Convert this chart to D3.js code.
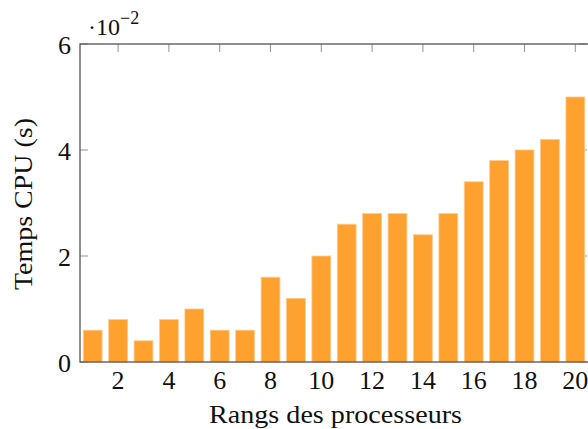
<!DOCTYPE html>
<html>
<head>
<meta charset="utf-8">
<script src="https://cdn.jsdelivr.net/npm/d3@7"></script>
<style>
  body { margin: 0; background: #fff; }
  text { font-family: "Liberation Serif", "DejaVu Serif", serif; fill: #111; }
</style>
</head>
<body>
<svg id="SVG_CONTAINER" width="588" height="429"></svg>
<script>
// ranks of the processors and CPU time (in units of 10^-2 s)
const ranks = d3.range(1, 21);
const cpuTimes = [0.6, 0.8, 0.4, 0.8, 1.0, 0.6, 0.6, 1.6, 1.2, 2.0,
                  2.6, 2.8, 2.8, 2.4, 2.8, 3.4, 3.8, 4.0, 4.2, 5.0];
const xTicks = [2, 4, 6, 8, 10, 12, 14, 16, 18, 20];
const yTicks = [0, 2, 4, 6];

const MARGIN = {LEFT: 80, RIGHT: 0, TOP: 44, BOTTOM: 67};
const width = 588, height = 429;

let svg = d3.select("#SVG_CONTAINER");

//** SCALES
let xScale = d3.scaleLinear()
    .domain([0.5, 20.5])
    .range([MARGIN.LEFT, width - MARGIN.RIGHT]);

let yScale = d3.scaleLinear()
    .domain([0, 6])
    .range([height - MARGIN.BOTTOM, MARGIN.TOP]);

let barWidth = (xScale(1) - xScale(0)) * 0.74;
let x0 = xScale.range()[0], x1 = xScale.range()[1];
let y0 = yScale.range()[0], y1 = yScale.range()[1];

//** TICKS (inner, both sides) drawn below the bars
let tickColor = "#9a9a9a", tickLen = 8;
let ticks = svg.append("g").attr("stroke", tickColor).attr("stroke-width", 1.1);
xTicks.forEach(function(t) {
    ticks.append("line").attr("x1", xScale(t)).attr("x2", xScale(t))
        .attr("y1", y1).attr("y2", y1 + tickLen);
    ticks.append("line").attr("x1", xScale(t)).attr("x2", xScale(t))
        .attr("y1", y0).attr("y2", y0 - tickLen);
});
yTicks.forEach(function(t) {
    ticks.append("line").attr("x1", x0).attr("x2", x0 + tickLen)
        .attr("y1", yScale(t)).attr("y2", yScale(t));
    ticks.append("line").attr("x1", x1 - 1).attr("x2", x1 - 1 - tickLen)
        .attr("y1", yScale(t)).attr("y2", yScale(t));
});

//** BARS
svg.append("g")
    .selectAll("rect")
    .data(ranks)
    .enter()
    .append("rect")
    .attr("x", d => xScale(d) - barWidth / 2)
    .attr("y", (d, i) => yScale(cpuTimes[i]))
    .attr("width", barWidth)
    .attr("height", (d, i) => y0 - yScale(cpuTimes[i]))
    .style("fill", "#ffa12e")
    .style("stroke", "#ffc98a")
    .style("stroke-width", 0.8);

//** AXIS BOX
svg.append("rect")
    .attr("x", x0)
    .attr("y", y1)
    .attr("width", x1 - x0 + 2)
    .attr("height", y0 - y1)
    .attr("fill", "none")
    .attr("stroke", "#555")
    .attr("stroke-width", 1.3);

//** TICK LABELS
svg.append("g")
    .selectAll("text")
    .data(xTicks)
    .enter()
    .append("text")
    .attr("x", d => xScale(d))
    .attr("y", y0 + 27)
    .attr("text-anchor", "middle")
    .style("font-size", "26px")
    .text(d => d);

svg.append("g")
    .selectAll("text")
    .data(yTicks)
    .enter()
    .append("text")
    .attr("x", x0 - 9)
    .attr("y", d => yScale(d) + 10)
    .attr("text-anchor", "end")
    .style("font-size", "26px")
    .text(d => d);

// exponent label
let expo = svg.append("text")
    .attr("x", 88)
    .attr("y", 35)
    .style("font-size", "24px");
expo.append("tspan").text("\u00b710");
expo.append("tspan").attr("dy", -11).style("font-size", "18px").text("\u22122");

//** AXIS LABELS
svg.append("text")
    .attr("x", 209)
    .attr("y", 423)
    .attr("textLength", 253)
    .attr("lengthAdjust", "spacingAndGlyphs")
    .style("font-size", "26px")
    .text("Rangs des processeurs");

svg.append("text")
    .attr("textLength", 172)
    .attr("lengthAdjust", "spacingAndGlyphs")
    .attr("transform", "translate(32,290) rotate(-90)")
    .style("font-size", "26px")
    .text("Temps CPU (s)");
</script>
</body>
</html>
